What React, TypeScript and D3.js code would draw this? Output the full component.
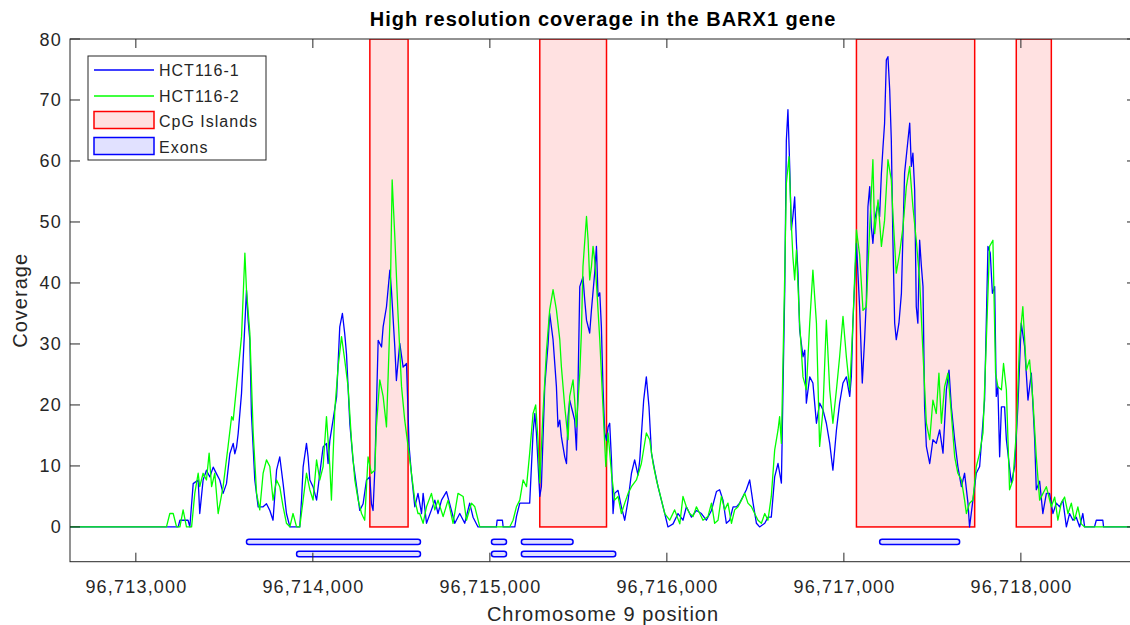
import React from 'react'
import * as d3 from 'd3'

// genome positions are stored as offsets from POS0 (bp)
const POS0 = 96713000
const xStart = -372
const xEnd = 5656

const xTicks = [96713000, 96714000, 96715000, 96716000, 96717000, 96718000]
const yTicks = [0, 10, 20, 30, 40, 50, 60, 70, 80]

const cpgStart = [1322, 2282, 4071, 4974]
const cpgEnd = [1538, 2659, 4739, 5172]

const exonStart = [625, 2009, 2178, 4202, 908, 2009, 2178]
const exonEnd = [1608, 2094, 2470, 4654, 1608, 2094, 2711]
const exonRow = [1, 1, 1, 1, 2, 2, 2]

// [offset, coverage]
const hct1: [number, number][] = [
  [-372, 0], [239, 0], [249, 1.1], [295, 1.1], [305, 0], [324, 7.1], [352, 7.7], [361, 2.2], [380, 7.7],
  [399, 9.3], [418, 8.2], [437, 9.8], [456, 8.7], [474, 7.7], [493, 5.5], [512, 7.1], [531, 12], [550, 13.7],
  [559, 12], [569, 13.1], [578, 15.3], [597, 21.9], [616, 33.3], [625, 38.8], [634, 34], [644, 30.6], [653, 18.6],
  [672, 7.7], [691, 3.3], [719, 3.3], [738, 3.8], [757, 2.7], [775, 1.1], [795, 9.3], [813, 11.5], [832, 7.1],
  [851, 2.2], [870, 0], [926, 0], [936, 4.4], [945, 9.8], [964, 13.7], [973, 11.5], [983, 7.7], [1001, 6.6],
  [1021, 4.4], [1039, 8.7], [1058, 13.1], [1077, 13.7], [1086, 10.4], [1096, 14.2], [1114, 17.5], [1134, 21.3],
  [1152, 32.8], [1167, 35], [1180, 31.7], [1190, 28.4], [1209, 16.9], [1227, 10.9], [1247, 6.6], [1265, 2.7],
  [1284, 3.8], [1303, 7.7], [1322, 8.2], [1331, 3.8], [1340, 2.7], [1350, 9.3], [1369, 30.6], [1388, 29.5],
  [1397, 32.8], [1416, 36.1], [1435, 42.1], [1444, 38.8], [1463, 29.5], [1472, 24], [1491, 30.1], [1510, 26.2],
  [1529, 26.8], [1544, 13.1], [1557, 8.7], [1576, 3.3], [1594, 5.5], [1614, 2.2], [1623, 5.5], [1642, 0.6],
  [1670, 2.8], [1689, 4.4], [1707, 2.2], [1727, 4.4], [1755, 5.8], [1783, 2.7], [1802, 0.6], [1830, 2.2],
  [1858, 0.6], [1886, 3.9], [1905, 1.6], [1933, 0], [2037, 0], [2041, 1.1], [2071, 1.1], [2075, 0], [2141, 0],
  [2150, 1.7], [2169, 3.9], [2207, 3.9], [2225, 3.9], [2244, 15.4], [2254, 18.6], [2263, 15.4], [2282, 5],
  [2291, 6.6], [2310, 23], [2329, 30.1], [2338, 35], [2357, 30.7], [2376, 23], [2385, 16.4], [2395, 17.5],
  [2404, 14.8], [2413, 13.2], [2423, 11.5], [2433, 10.4], [2442, 18.1], [2451, 20.8], [2470, 18.6], [2479, 17.5],
  [2489, 12.6], [2498, 23], [2508, 39.4], [2526, 41], [2536, 37.2], [2546, 33.9], [2564, 31.8], [2574, 35.6],
  [2592, 41.6], [2602, 46], [2611, 37.8], [2621, 38.4], [2630, 32.8], [2639, 23], [2649, 15.4], [2659, 14.2],
  [2668, 16.4], [2677, 17], [2687, 11], [2696, 2.2], [2705, 5.5], [2724, 6], [2743, 3.3], [2762, 1.1],
  [2781, 4.4], [2800, 8.8], [2818, 11], [2837, 8.5], [2847, 11], [2869, 20.8], [2884, 24.6], [2899, 19.7],
  [2913, 12.1], [2931, 9.3], [2950, 6.6], [2969, 4.4], [2988, 2.2], [3006, 0], [3035, 0.5], [3063, 2.2],
  [3091, 1.1], [3110, 3.3], [3139, 1.6], [3167, 2.7], [3195, 2.2], [3223, 1.1], [3252, 2.7], [3280, 5.8],
  [3298, 6.1], [3317, 4.4], [3336, 0.6], [3355, 1.1], [3374, 3.3], [3393, 3.3], [3411, 3.9], [3430, 5],
  [3449, 6.1], [3468, 7.7], [3487, 3.9], [3506, 0.6], [3524, 0], [3553, 0.6], [3571, 1.6], [3590, 1.6],
  [3609, 8.2], [3628, 10.4], [3647, 7.2], [3656, 22.5], [3666, 38.9], [3675, 63.4], [3684, 68.4], [3694, 59.1],
  [3703, 48.7], [3712, 50.9], [3722, 54.1], [3732, 46.5], [3741, 41.6], [3750, 32.3], [3769, 27.9], [3779, 29],
  [3788, 20.3], [3807, 24.6], [3825, 23.6], [3835, 20.3], [3845, 17], [3863, 20.3], [3882, 19.2], [3901, 17],
  [3920, 13.7], [3938, 9.3], [3958, 15.9], [3976, 20.3], [3995, 23.6], [4014, 24.6], [4033, 21.4], [4042, 24.6],
  [4051, 33.4], [4071, 46.5], [4089, 36], [4104, 23.6], [4117, 30.7], [4127, 37.2], [4136, 52.5], [4146, 55.8],
  [4155, 49.2], [4164, 46.5], [4174, 50.3], [4193, 53.1], [4202, 50.9], [4212, 58], [4221, 62.3], [4230, 66.2],
  [4240, 76.6], [4249, 77.1], [4259, 71.6], [4268, 63.4], [4277, 47], [4287, 33.4], [4296, 30.7], [4311, 33.4],
  [4325, 38.3], [4343, 58], [4362, 63.4], [4372, 66.2], [4381, 59.1], [4390, 61.3], [4400, 55.2], [4409, 36.1],
  [4418, 33.4], [4428, 47], [4438, 42.7], [4447, 39.4], [4456, 19.7], [4466, 13.2], [4485, 10.4], [4503, 14.3],
  [4522, 13.7], [4541, 15.9], [4560, 12.1], [4579, 22.5], [4594, 25.7], [4607, 19.7], [4626, 14.3], [4644, 9.9],
  [4664, 6.6], [4682, 8.8], [4701, 3.9], [4710, 0], [4729, 4.4], [4748, 8.8], [4767, 9.9], [4795, 20.8],
  [4814, 46], [4827, 44.9], [4839, 38.3], [4852, 39.4], [4861, 21.4], [4870, 23], [4880, 11.5], [4890, 19.7],
  [4908, 19.7], [4918, 14.3], [4946, 7.2], [4965, 9.9], [4983, 19.7], [5002, 33.4], [5021, 29.6], [5040, 20.8],
  [5059, 25.2], [5078, 14.3], [5087, 6.1], [5106, 7.5], [5124, 2.2], [5144, 5.5], [5162, 5.5], [5181, 2.2],
  [5200, 3.9], [5219, 3.3], [5237, 4.4], [5257, 0], [5275, 2.2], [5294, 1.1], [5313, 1.6], [5332, 0],
  [5350, 2.2], [5360, 0], [5416, 0], [5426, 1.1], [5463, 1.1], [5467, 0], [5656, 0],
]

const hct2: [number, number][] = [
  [-372, 0], [173, 0], [192, 2.2], [211, 2.2], [230, 0], [249, 0], [267, 2.8], [286, 0], [315, 0], [333, 5.5],
  [352, 8.8], [361, 6.6], [380, 8.8], [399, 7.7], [414, 12.1], [428, 6.6], [446, 8.8], [465, 2.2], [493, 6.6],
  [521, 13.2], [541, 18.1], [550, 17.5], [569, 23], [597, 31.2], [616, 44.9], [625, 38.9], [644, 31.8],
  [663, 15.4], [682, 5.5], [700, 2.8], [719, 8.8], [738, 11], [757, 9.9], [775, 4.4], [795, 7.7], [813, 6.6],
  [832, 3.3], [851, 0.6], [870, 0], [888, 2.2], [908, 0], [926, 0], [945, 4.4], [964, 8.8], [983, 6.1],
  [1001, 4.4], [1021, 11], [1039, 7.7], [1058, 9.9], [1077, 18.1], [1096, 9.9], [1105, 4.4], [1124, 19.2],
  [1143, 26.3], [1162, 31.2], [1180, 27.4], [1199, 23], [1218, 14.3], [1237, 7.7], [1256, 4.4], [1275, 2.2],
  [1293, 1.1], [1312, 11.5], [1331, 8.8], [1350, 9.3], [1359, 16.4], [1378, 24.1], [1397, 21.4], [1416, 16.4],
  [1435, 33.4], [1448, 56.9], [1463, 47.6], [1481, 35], [1501, 23], [1519, 17.5], [1538, 13.2], [1557, 8.8],
  [1576, 4.4], [1594, 2.2], [1604, 2.2], [1623, 0.6], [1642, 3.3], [1670, 5.5], [1689, 2.8], [1707, 4.4],
  [1736, 1.7], [1764, 4.4], [1792, 0.6], [1820, 5.5], [1849, 5], [1868, 1.1], [1896, 3.9], [1915, 3.3],
  [1943, 0], [2112, 0], [2131, 1.1], [2150, 3.3], [2169, 4.4], [2188, 7.7], [2207, 6.6], [2225, 12.1],
  [2244, 18.6], [2259, 20], [2272, 14.3], [2282, 7.2], [2300, 18.6], [2320, 29], [2338, 35.6], [2357, 38.9],
  [2376, 35.6], [2395, 30.7], [2404, 26.3], [2423, 19.7], [2442, 14.3], [2451, 21.4], [2470, 24.1], [2479, 20.8],
  [2489, 16.4], [2508, 25.2], [2517, 31.8], [2526, 42.7], [2546, 50.9], [2555, 47], [2564, 40.5], [2574, 42.7],
  [2583, 46], [2592, 43.8], [2602, 40], [2621, 30.7], [2639, 19.7], [2655, 9.9], [2668, 15.4], [2687, 8.8],
  [2705, 4.4], [2724, 5], [2743, 2.2], [2762, 3.9], [2781, 5.5], [2800, 6.6], [2828, 7.7], [2856, 10.4],
  [2884, 15.4], [2903, 14.3], [2922, 10.4], [2941, 7.7], [2960, 5.5], [2988, 2.2], [3016, 1.1], [3044, 2.8],
  [3073, 0.5], [3091, 5], [3110, 3.3], [3129, 2.2], [3148, 1.7], [3167, 3.3], [3186, 2.2], [3204, 1.1],
  [3232, 1.7], [3252, 3.9], [3270, 0.6], [3289, 1.1], [3308, 5], [3327, 2.8], [3345, 3.9], [3365, 0.6],
  [3383, 2.8], [3402, 3.3], [3421, 4.4], [3440, 5.5], [3458, 3.9], [3478, 3.3], [3496, 2.2], [3515, 1.1],
  [3534, 0.6], [3553, 2.2], [3571, 1.1], [3590, 5], [3609, 12.6], [3628, 15.9], [3637, 18.1], [3647, 13.7],
  [3666, 41.6], [3675, 56.3], [3690, 60.7], [3703, 49.8], [3712, 44.3], [3722, 40.5], [3732, 45.4], [3741, 39.4],
  [3750, 33.4], [3769, 24.6], [3788, 22.5], [3807, 33.4], [3825, 42.1], [3845, 33.4], [3863, 13.2], [3882, 19.2],
  [3901, 33.9], [3920, 22.5], [3938, 17], [3958, 22.5], [3976, 27.9], [3995, 34.5], [4014, 27.9], [4033, 22.5],
  [4051, 33.4], [4071, 48.7], [4089, 44.6], [4108, 35.5], [4127, 36.1], [4146, 49.2], [4164, 60.2], [4174, 48.1],
  [4193, 53.6], [4212, 46], [4230, 50.3], [4249, 60.2], [4268, 56.9], [4277, 51.4], [4296, 41.6], [4315, 44.9],
  [4334, 49.2], [4353, 55.8], [4372, 59.1], [4390, 52.5], [4409, 47], [4428, 40.5], [4447, 28.5], [4466, 17],
  [4485, 14.3], [4503, 20.8], [4522, 18.6], [4537, 25.2], [4551, 17], [4569, 23], [4588, 25.2], [4607, 18.6],
  [4626, 11.5], [4644, 8.8], [4664, 7.7], [4682, 4.4], [4692, 2.2], [4710, 3.9], [4729, 4.4], [4748, 9.9],
  [4767, 12.1], [4786, 15.4], [4805, 30.7], [4823, 46], [4842, 47], [4857, 25.2], [4870, 23], [4890, 22.5],
  [4902, 26.8], [4918, 22.5], [4936, 6.1], [4955, 7.7], [4974, 15.4], [4993, 30.7], [5011, 36.1], [5031, 25.7],
  [5049, 27.4], [5068, 20.8], [5087, 11.5], [5106, 4.4], [5144, 6.6], [5172, 3.3], [5191, 4.9], [5209, 1.1],
  [5228, 3.9], [5247, 4.9], [5266, 2.2], [5285, 3.9], [5303, 1.1], [5322, 3.3], [5341, 0.5], [5360, 0],
  [5656, 0],
]

const legendItems = ['HCT116-1', 'HCT116-2', 'CpG Islands', 'Exons']

const FONT = '"Liberation Sans", Arial, Helvetica, sans-serif'
const AX = '#262626'

export default function App() {
  const W = 1130
  const H = 625
  const left = 70
  const right = 1137
  const top = 39
  const bottom = 561.7

  const x = d3.scaleLinear().domain([POS0 + xStart, POS0 + xEnd]).range([left, right])
  const y = d3.scaleLinear().domain([-5.7, 80]).range([bottom, top])
  const line = d3
    .line<[number, number]>()
    .x((d) => x(POS0 + d[0]))
    .y((d) => y(d[1]))
  const fmt = d3.format(',')

  return (
    <svg
      width={W}
      height={H}
      style={{ position: 'absolute', left: 0, top: 0, background: '#fff' }}
      fontFamily={FONT}
    >
      <defs>
        <clipPath id="plot">
          <rect x={left} y={top} width={right - left} height={bottom - top} />
        </clipPath>
      </defs>
      <rect width={W} height={H} fill="#fff" />

      <g clipPath="url(#plot)">
        {cpgStart.map((s, i) => (
          <rect
            key={'cpg' + i}
            x={x(POS0 + s)}
            y={y(80)}
            width={x(POS0 + cpgEnd[i]) - x(POS0 + s)}
            height={y(0) - y(80)}
            fill="#ffe1e1"
            stroke="#ff0000"
            strokeWidth={1.5}
          />
        ))}
        {exonStart.map((s, i) => {
          const yt = exonRow[i] === 1 ? -2 : -4
          return (
            <rect
              key={'ex' + i}
              x={x(POS0 + s)}
              y={y(yt)}
              width={x(POS0 + exonEnd[i]) - x(POS0 + s)}
              height={y(yt - 0.9) - y(yt)}
              rx={2.5}
              fill="#e1e1ff"
              stroke="#0000ff"
              strokeWidth={1.5}
            />
          )
        })}
        <path d={line(hct1) || ''} fill="none" stroke="#0000ff" strokeWidth={1.3} strokeLinejoin="round" />
        <path d={line(hct2) || ''} fill="none" stroke="#00ff00" strokeWidth={1.3} strokeLinejoin="round" />
      </g>

      {/* axes box */}
      <rect x={left} y={top} width={right - left} height={bottom - top} fill="none" stroke={AX} strokeWidth={1} />

      {yTicks.map((t) => (
        <g key={'y' + t}>
          <line x1={left} x2={left + 10} y1={y(t)} y2={y(t)} stroke={AX} />
          <line x1={right} x2={right - 10} y1={y(t)} y2={y(t)} stroke={AX} />
          <text x={62} y={y(t) + 6.5} textAnchor="end" fontSize={18} letterSpacing={1.2} fill={AX}>
            {t}
          </text>
        </g>
      ))}
      {xTicks.map((t) => (
        <g key={'x' + t}>
          <line x1={x(t)} x2={x(t)} y1={bottom} y2={bottom - 9} stroke={AX} />
          <line x1={x(t)} x2={x(t)} y1={top} y2={top + 9} stroke={AX} />
          <text x={x(t) + 0.6} y={593} textAnchor="middle" fontSize={18} letterSpacing={1.2} fill={AX}>
            {fmt(t)}
          </text>
        </g>
      ))}

      <text x={603} y={26} textAnchor="middle" fontSize={20} fontWeight="bold" letterSpacing={1} fill="#000">
        High resolution coverage in the BARX1 gene
      </text>
      <text x={603} y={620.5} textAnchor="middle" fontSize={20} letterSpacing={1} fill={AX}>
        Chromosome 9 position
      </text>
      <text
        transform={`translate(27,${(top + bottom) / 2}) rotate(-90)`}
        textAnchor="middle"
        fontSize={20}
        letterSpacing={1}
        fill={AX}
      >
        Coverage
      </text>

      {/* legend */}
      <g>
        <rect x={88} y={56} width={178} height={104} fill="#fff" stroke={AX} strokeWidth={1} />
        <line x1={94} x2={154} y1={70} y2={70} stroke="#0000ff" strokeWidth={1.3} />
        <line x1={94} x2={154} y1={96} y2={96} stroke="#00ff00" strokeWidth={1.3} />
        <rect x={94} y={111.5} width={60} height={17} fill="#ffe1e1" stroke="#ff0000" strokeWidth={1.5} />
        <rect x={94} y={137.5} width={60} height={17} fill="#e1e1ff" stroke="#0000ff" strokeWidth={1.5} />
        {legendItems.map((s, i) => (
          <text key={s} x={159} y={76 + i * 25.5} fontSize={16} letterSpacing={1} fill={AX}>
            {s}
          </text>
        ))}
      </g>
    </svg>
  )
}
